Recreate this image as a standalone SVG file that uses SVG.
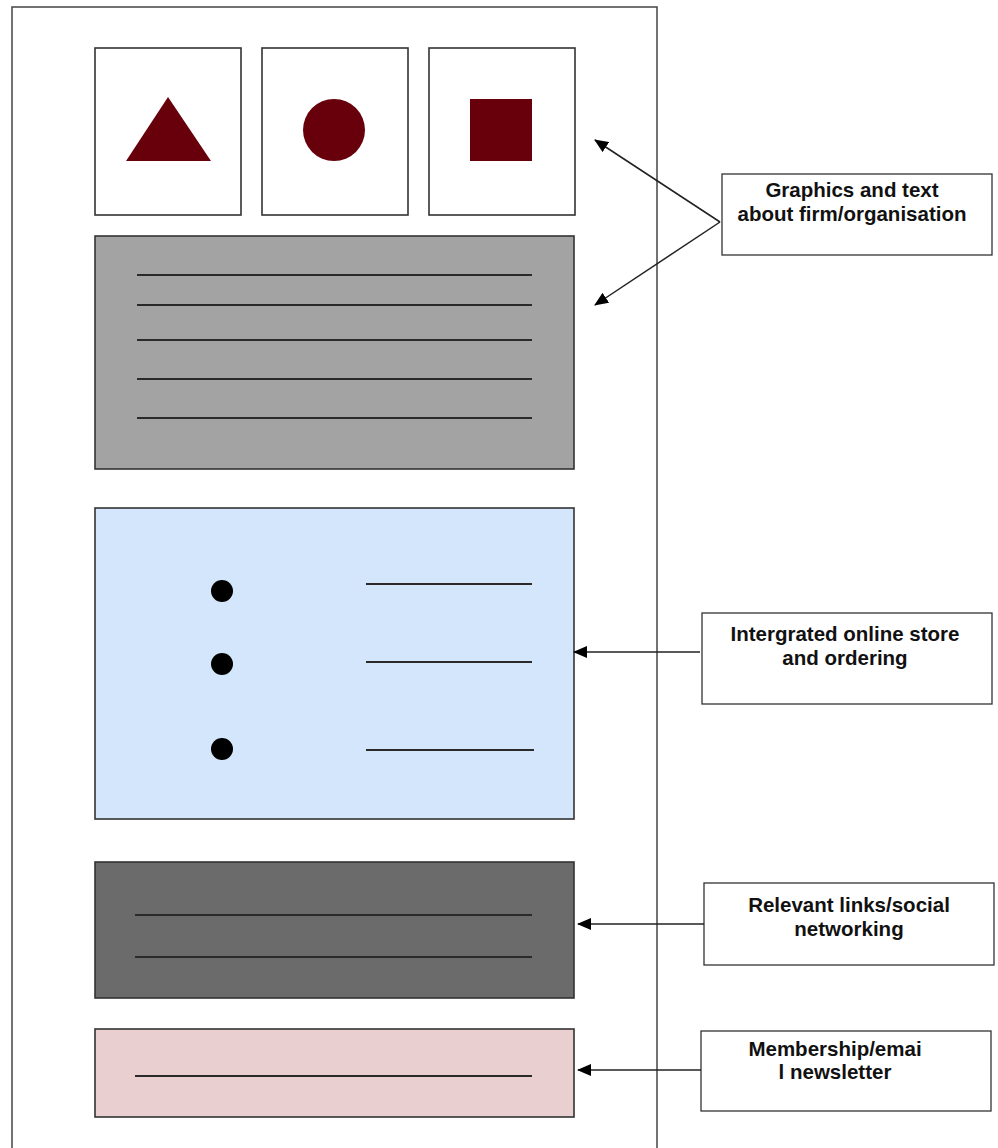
<svg xmlns="http://www.w3.org/2000/svg" width="998" height="1148" viewBox="0 0 998 1148">
<style>
.box{stroke:#333;stroke-width:1.6}
.ln{stroke:#2a2a2a;stroke-width:1.8}
.lbl{fill:#fff;stroke:#333;stroke-width:1.3}
.t{font-family:"Liberation Sans",Arial,sans-serif;font-weight:bold;font-size:20.5px;fill:#111;text-anchor:middle}
.shape{fill:#67000b}
.conn{stroke:#222;stroke-width:1.5;fill:none;marker-end:url(#ah)}
</style>
<defs>
<marker id="ah" markerWidth="14" markerHeight="12" refX="13" refY="6" orient="auto" markerUnits="userSpaceOnUse">
<path d="M0,0 L14,6 L0,12 Z" fill="#000"/>
</marker>
</defs>
<rect width="998" height="1148" fill="#fff"/>
<g id="frame"><rect x="12" y="7" width="645" height="1160" fill="none" stroke="#444" stroke-width="1.5"/></g>
<g id="tile-triangle"><rect class="box" x="95" y="48" width="146" height="167" fill="#fff"/><polygon class="shape" points="168,97 126,161 211,161"/></g>
<g id="tile-circle"><rect class="box" x="262" y="48" width="146" height="167" fill="#fff"/><circle class="shape" cx="334" cy="130" r="31"/></g>
<g id="tile-square"><rect class="box" x="429" y="48" width="146" height="167" fill="#fff"/><rect class="shape" x="470" y="99" width="62" height="62"/></g>
<g id="text-block"><rect class="box" x="95" y="236" width="479" height="233" fill="#a3a3a3"/>
<line class="ln" x1="137" y1="275" x2="532" y2="275"/><line class="ln" x1="137" y1="305" x2="532" y2="305"/><line class="ln" x1="137" y1="340" x2="532" y2="340"/><line class="ln" x1="137" y1="379" x2="532" y2="379"/><line class="ln" x1="137" y1="418" x2="532" y2="418"/></g>
<g id="store-block"><rect class="box" x="95" y="508" width="479" height="311" fill="#d4e6fc"/>
<circle cx="222" cy="591" r="11" fill="#000"/><circle cx="222" cy="664" r="11" fill="#000"/><circle cx="222" cy="749" r="11" fill="#000"/>
<line class="ln" x1="366" y1="584" x2="532" y2="584"/><line class="ln" x1="366" y1="662" x2="532" y2="662"/><line class="ln" x1="366" y1="750" x2="534" y2="750"/></g>
<g id="links-block"><rect class="box" x="95" y="862" width="479" height="136" fill="#6b6b6b"/>
<line class="ln" x1="135" y1="915" x2="532" y2="915"/><line class="ln" x1="135" y1="957" x2="532" y2="957"/></g>
<g id="newsletter-block"><rect class="box" x="95" y="1029" width="479" height="88" fill="#eacfd1"/>
<line class="ln" x1="135" y1="1076" x2="532" y2="1076"/></g>
<g id="label-graphics"><rect class="lbl" x="722" y="174" width="270" height="81"/><text class="t" x="852" y="197">Graphics and text</text><text class="t" x="852" y="221">about firm/organisation</text></g>
<g id="label-store"><rect class="lbl" x="702" y="613" width="290" height="91"/><text class="t" x="845" y="641">Intergrated online store</text><text class="t" x="845" y="665">and ordering</text></g>
<g id="label-links"><rect class="lbl" x="704" y="883" width="290" height="82"/><text class="t" x="849" y="912">Relevant links/social</text><text class="t" x="849" y="936">networking</text></g>
<g id="label-newsletter"><rect class="lbl" x="701" y="1031" width="290" height="80"/><text class="t" x="835" y="1056">Membership/emai</text><text class="t" x="835" y="1079">l newsletter</text></g>
<g id="connectors">
<line class="conn" x1="720" y1="222" x2="595" y2="140"/>
<line class="conn" x1="720" y1="222" x2="595" y2="305"/>
<line class="conn" x1="700" y1="652" x2="574" y2="652"/>
<line class="conn" x1="704" y1="924" x2="578" y2="924"/>
<line class="conn" x1="701" y1="1070" x2="578" y2="1070"/>
</g>
</svg>
